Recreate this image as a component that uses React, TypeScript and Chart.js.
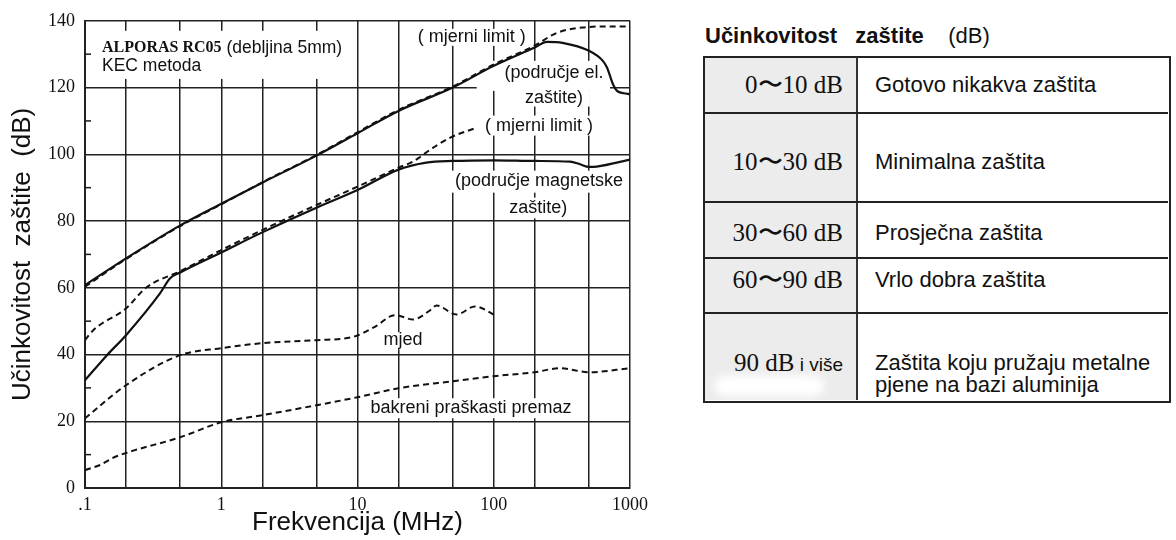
import { useEffect, useRef } from "react";
import { Chart, registerables } from "chart.js";

Chart.register(...registerables);

const SANS = "'Liberation Sans', Arial, sans-serif";
const SERIF = "'Liberation Serif', 'Times New Roman', serif";

// axis ticks
const xTickValues = [0.1, 0.2, 0.5, 1, 2, 5, 10, 20, 50, 100, 200, 500, 1000];
const xTickLabels = [".1", "", "", "1", "", "", "10", "", "", "100", "", "", "1000"];
const yTickValues = [0, 20, 40, 60, 80, 100, 120, 140];
const yMinorTicks = [10, 30, 50, 70, 90, 110, 130];

// ALPORAS – electric field shielding (solid)
const electricFreq = [0.1, 0.2, 0.5, 1, 2, 5, 10, 20, 50, 100, 200, 246, 320, 500, 632, 678, 750, 803, 900, 1000];
const electricDb = [60.8, 68.8, 78.7, 85.2, 91.5, 99.6, 106.3, 113, 120, 126.5, 132, 133.7, 133.4, 131, 128, 126, 121, 119, 118.3, 118];

// measurement limit – electric (dashed)
const electricLimitFreq = [0.1, 0.2, 0.5, 1, 2, 5, 10, 20, 50, 100, 200, 291, 452, 700, 1000];
const electricLimitDb = [60.3, 68.6, 78.5, 85, 91.6, 99.8, 106.6, 113.3, 120.3, 126.9, 132.6, 136.4, 138, 138.3, 138.3];

// ALPORAS – magnetic field shielding (solid)
const magneticFreq = [0.1, 0.145, 0.2, 0.355, 0.42, 0.5, 1, 2, 5, 10, 20, 32, 50, 100, 200, 363, 430, 500, 570, 1000];
const magneticDb = [32.3, 39.8, 45.8, 58.3, 62.8, 64.6, 70.6, 76.6, 84, 89.3, 95.4, 97.5, 98, 98.2, 98, 97.8, 97, 96.2, 96.3, 98.4];

// measurement limit – magnetic (dashed)
const magneticLimitFreq = [0.1, 0.115, 0.2, 0.28, 0.5, 1, 2, 5, 10, 20, 25.5, 36, 48, 75];
const magneticLimitDb = [44.3, 47.3, 53.8, 60, 65, 71.3, 77.3, 84.8, 90.3, 96, 97.8, 102, 105, 108];

// mjed (brass)
const brassFreq = [0.1, 0.2, 0.5, 1, 2, 5, 9.3, 13.4, 18.8, 25.7, 34, 38, 53.4, 72.8, 105];
const brassDb = [20.9, 30.8, 39.8, 41.9, 43.4, 44.3, 45.3, 48.3, 51.8, 50.5, 53.2, 54.7, 52, 54.4, 51.5];

// bakreni praškasti premaz (copper powder coating)
const copperFreq = [0.1, 0.129, 0.16, 0.2, 0.5, 1, 2, 5, 10, 20, 50, 100, 200, 306, 500, 1000];
const copperDb = [5.4, 6.9, 9, 10.5, 15.2, 19.7, 21.8, 24.8, 27.2, 29.9, 32, 33.5, 34.7, 35.9, 34.7, 35.9];

// table
const tableRanges = ["0\u301C10 dB", "10\u301C30 dB", "30\u301C60 dB", "60\u301C90 dB", "90 dB"];
const tableDescriptions = [
  ["Gotovo nikakva zaštita"],
  ["Minimalna zaštita"],
  ["Prosječna zaštita"],
  ["Vrlo dobra zaštita"],
  ["Zaštita koju pružaju metalne", "pjene na bazi aluminija"],
];

// annotation text inside the plot (data coordinates)
const plotLabels = [
  { text: "( mjerni limit )", f: 69, v: 135.2 },
  { text: "(područje el.", f: 277, v: 124.4 },
  { text: "zaštite)", f: 277, v: 117.0 },
  { text: "( mjerni limit )", f: 215, v: 108.6 },
  { text: "(područje magnetske", f: 215, v: 92.1 },
  { text: "zaštite)", f: 212, v: 84.0 },
  { text: "mjed", f: 21.6, v: 44.3 },
  { text: "bakreni praškasti premaz", f: 68, v: 24 },
];

// white areas behind the labels (data coordinates)
const maskRegions = [
  { f1: 0.105, f2: 8.8, v1: 137, v2: 122.6 },
  { f1: 26.4, f2: 175, v1: 137.6, v2: 132.5 },
  { f1: 75, f2: 713, v1: 128, v2: 119 },
  { f1: 156, f2: 508, v1: 119, v2: 114.3 },
  { f1: 83.4, f2: 563, v1: 111.6, v2: 105.6 },
  { f1: 47.8, f2: 966, v1: 95.1, v2: 88.5 },
  { f1: 125, f2: 375, v1: 87, v2: 80.8 },
  { f1: 14.6, f2: 31.8, v1: 46.7, v2: 41.6 },
  { f1: 11.8, f2: 395, v1: 26.9, v2: 20.9 },
];

const pts = (fs: number[], vs: number[]) => fs.map((f, i) => ({ x: f, y: vs[i] }));

const annotationPlugin = {
  id: "annotations",
  beforeDatasetsDraw(chart: any) {
    const { ctx, chartArea } = chart;
    const x = chart.scales.x;
    const y = chart.scales.y;
    ctx.save();
    ctx.fillStyle = "#ffffff";
    for (const m of maskRegions) {
      const x1 = x.getPixelForValue(m.f1);
      const x2 = x.getPixelForValue(m.f2);
      const y1 = y.getPixelForValue(m.v1);
      const y2 = y.getPixelForValue(m.v2);
      ctx.fillRect(Math.min(x1, x2), Math.min(y1, y2), Math.abs(x2 - x1), Math.abs(y2 - y1));
    }
    ctx.strokeStyle = "#1a1a1a";
    ctx.lineWidth = 1.5;
    for (const v of yMinorTicks) {
      const py = y.getPixelForValue(v);
      ctx.beginPath();
      ctx.moveTo(chartArea.left, py);
      ctx.lineTo(chartArea.left + 6, py);
      ctx.stroke();
    }
    ctx.restore();
  },
  afterDatasetsDraw(chart: any) {
    const { ctx } = chart;
    const x = chart.scales.x;
    const y = chart.scales.y;
    ctx.save();
    ctx.fillStyle = "#111";
    ctx.textBaseline = "middle";
    ctx.textAlign = "center";
    ctx.font = `18px ${SANS}`;
    for (const l of plotLabels) {
      ctx.fillText(l.text, x.getPixelForValue(l.f), y.getPixelForValue(l.v));
    }
    // title block
    ctx.textAlign = "left";
    const lx = x.getPixelForValue(0.1333);
    const ly1 = y.getPixelForValue(131.9);
    const ly2 = y.getPixelForValue(126.5);
    ctx.font = `bold 16px ${SERIF}`;
    const part1 = "ALPORAS RC05";
    ctx.fillText(part1, lx, ly1);
    const w1 = ctx.measureText(part1).width;
    ctx.font = `17.5px ${SANS}`;
    ctx.fillText(" (debljina 5mm)", lx + w1, ly1);
    ctx.fillText("KEC metoda", lx, ly2);
    ctx.restore();
  },
};

export default function App() {
  const ref = useRef<HTMLCanvasElement>(null);

  useEffect(() => {
    const lineStyle = (dashed: boolean) => ({
      borderColor: "#111",
      backgroundColor: "#111",
      borderWidth: dashed ? 2 : 2.2,
      borderDash: dashed ? [6, 4] : [],
      pointRadius: 0,
      fill: false,
      cubicInterpolationMode: "monotone" as const,
    });
    const chart = new Chart(ref.current!, {
      type: "line",
      data: {
        datasets: [
          { label: "ALPORAS el.", data: pts(electricFreq, electricDb), ...lineStyle(false) },
          { label: "mjerni limit el.", data: pts(electricLimitFreq, electricLimitDb), ...lineStyle(true) },
          { label: "ALPORAS magn.", data: pts(magneticFreq, magneticDb), ...lineStyle(false) },
          { label: "mjerni limit magn.", data: pts(magneticLimitFreq, magneticLimitDb), ...lineStyle(true) },
          { label: "mjed", data: pts(brassFreq, brassDb), ...lineStyle(true) },
          { label: "bakreni praškasti premaz", data: pts(copperFreq, copperDb), ...lineStyle(true) },
        ],
      },
      options: {
        responsive: false,
        animation: false,
        layout: { padding: { top: 20, right: 50, left: 0, bottom: 0 } },
        plugins: { legend: { display: false }, tooltip: { enabled: false } },
        scales: {
          x: {
            type: "logarithmic",
            min: 0.1,
            max: 1000,
            afterBuildTicks: (s: any) => {
              s.ticks = xTickValues.map((v) => ({ value: v }));
            },
            afterFit: (s: any) => {
              s.height = 52;
            },
            ticks: {
              autoSkip: false,
              maxRotation: 0,
              padding: 6,
              color: "#111",
              font: { family: SERIF, size: 18 },
              callback: (_v: any, i: number) => xTickLabels[i] ?? "",
            },
            grid: { color: "#222", lineWidth: 1.5, drawTicks: false },
            border: { color: "#222", width: 2 },
            title: {
              display: true,
              text: "Frekvencija (MHz)",
              color: "#111",
              font: { family: SANS, size: 26 },
              padding: { top: 0, bottom: 2 },
            },
          },
          y: {
            type: "linear",
            min: 0,
            max: 140,
            afterBuildTicks: (s: any) => {
              s.ticks = yTickValues.map((v) => ({ value: v }));
            },
            afterFit: (s: any) => {
              s.width = 85;
            },
            ticks: {
              padding: 10,
              color: "#111",
              font: { family: SERIF, size: 18 },
            },
            grid: { color: "#222", lineWidth: 1.5, drawTicks: false },
            border: { color: "#222", width: 2 },
            title: {
              display: true,
              text: "Učinkovitost  zaštite  (dB)",
              color: "#111",
              font: { family: SANS, size: 26 },
              padding: { top: 7, bottom: 0 },
            },
          },
        },
      },
      plugins: [annotationPlugin],
    });
    return () => chart.destroy();
  }, []);

  const rowTops = [57, 113, 202, 258, 313, 400];
  const textCenters = [85, 162, 233, 280, 363];
  const tableLeft = 704;
  const colSplit = 857;
  const tableRight = 1168;

  return (
    <div style={{ position: "absolute", left: 0, top: 0, width: 1176, height: 540, background: "#fff", overflow: "hidden" }}>
      <canvas ref={ref} width={680} height={540} style={{ position: "absolute", left: 0, top: 0, width: 680, height: 540 }} />
      <div style={{ position: "absolute", left: 705, top: 21, height: 30, lineHeight: "30px", fontFamily: SANS, fontSize: 22, color: "#111", whiteSpace: "pre" }}>
        <span style={{ fontWeight: "bold" }}>{"Učinkovitost   zaštite    "}</span>
        <span>(dB)</span>
      </div>
      {/* left column background */}
      <div style={{ position: "absolute", left: tableLeft, top: rowTops[0], width: colSplit - tableLeft, height: rowTops[5] - rowTops[0], background: "#ececec" }} />
      {/* white smudge */}
      <div style={{ position: "absolute", left: 714, top: 376, width: 110, height: 20, background: "#fff", borderRadius: 10, filter: "blur(4px)" }} />
      {/* borders */}
      <div style={{ position: "absolute", left: tableLeft - 1, top: rowTops[0] - 1, width: tableRight - tableLeft, height: rowTops[5] - rowTops[0], border: "2px solid #222" }} />
      <div style={{ position: "absolute", left: colSplit - 1, top: rowTops[0], width: 2, height: rowTops[5] - rowTops[0], background: "#333" }} />
      {rowTops.slice(1, 5).map((t, i) => (
        <div key={"h" + i} style={{ position: "absolute", left: tableLeft, top: t - 1, width: tableRight - tableLeft, height: 2, background: "#222" }} />
      ))}
      {tableRanges.map((r, i) => (
        <div key={"r" + i} style={{ position: "absolute", left: tableLeft, width: 843 - tableLeft, top: textCenters[i] - 15, height: 30, lineHeight: "30px", textAlign: "right", fontFamily: SERIF, fontSize: 25, color: "#111", whiteSpace: "pre" }}>
          {r}
          {i === 4 ? <span style={{ fontFamily: SANS, fontSize: 19 }}>{" i više"}</span> : null}
        </div>
      ))}
      {tableDescriptions.map((lines, i) =>
        lines.map((txt, j) => (
          <div key={"d" + i + "_" + j} style={{ position: "absolute", left: 875, top: textCenters[i] - 14 + j * 22, height: 28, lineHeight: "28px", fontFamily: SANS, fontSize: 22, color: "#111", whiteSpace: "pre" }}>
            {txt}
          </div>
        ))
      )}
    </div>
  );
}
